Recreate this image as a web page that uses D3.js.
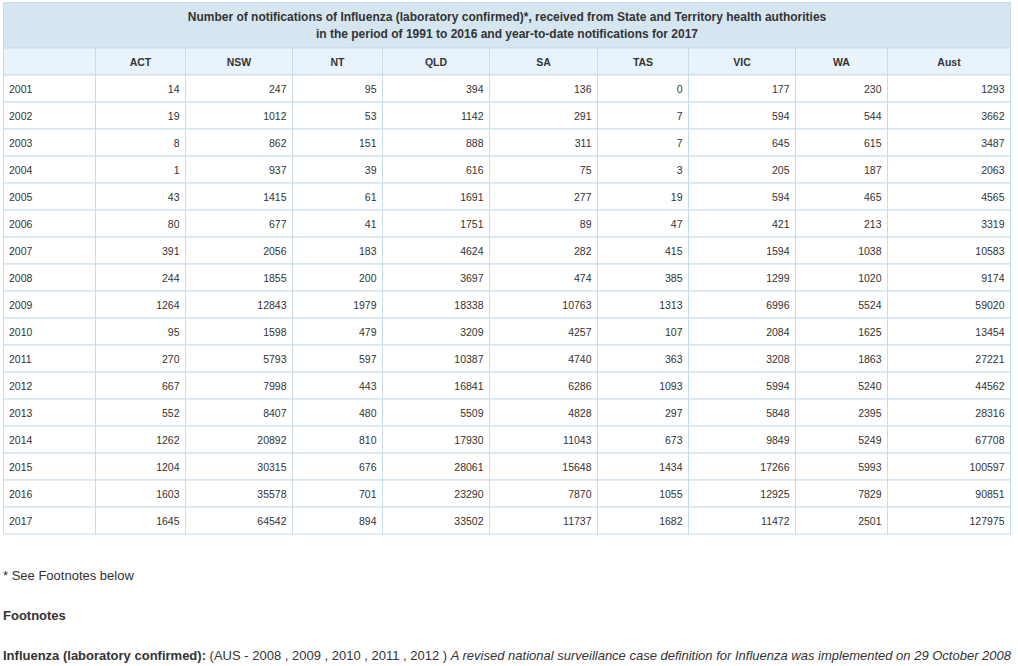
<!DOCTYPE html>
<html>
<head>
<meta charset="utf-8">
<script src="https://cdn.jsdelivr.net/npm/d3@7"></script>
<style>
  body { margin: 0; background: #fff; }
  svg { display: block; font-family: Arial, "Liberation Sans", sans-serif; }
</style>
</head>
<body>
<div id="chart"></div>
<script>
// table data
const titleLines = [
    "Number of notifications of Influenza (laboratory confirmed)*, received from State and Territory health authorities",
    "in the period of 1991 to 2016 and year-to-date notifications for 2017"
];
const columns = ["ACT", "NSW", "NT", "QLD", "SA", "TAS", "VIC", "WA", "Aust"];
const years = [2001, 2002, 2003, 2004, 2005, 2006, 2007, 2008, 2009, 2010, 2011, 2012, 2013, 2014, 2015, 2016, 2017];

const act  = [14, 19, 8, 1, 43, 80, 391, 244, 1264, 95, 270, 667, 552, 1262, 1204, 1603, 1645];
const nsw  = [247, 1012, 862, 937, 1415, 677, 2056, 1855, 12843, 1598, 5793, 7998, 8407, 20892, 30315, 35578, 64542];
const nt   = [95, 53, 151, 39, 61, 41, 183, 200, 1979, 479, 597, 443, 480, 810, 676, 701, 894];
const qld  = [394, 1142, 888, 616, 1691, 1751, 4624, 3697, 18338, 3209, 10387, 16841, 5509, 17930, 28061, 23290, 33502];
const sa   = [136, 291, 311, 75, 277, 89, 282, 474, 10763, 4257, 4740, 6286, 4828, 11043, 15648, 7870, 11737];
const tas  = [0, 7, 7, 3, 19, 47, 415, 385, 1313, 107, 363, 1093, 297, 673, 1434, 1055, 1682];
const vic  = [177, 594, 645, 205, 594, 421, 1594, 1299, 6996, 2084, 3208, 5994, 5848, 9849, 17266, 12925, 11472];
const wa   = [230, 544, 615, 187, 465, 213, 1038, 1020, 5524, 1625, 1863, 5240, 2395, 5249, 5993, 7829, 2501];
const aust = [1293, 3662, 3487, 2063, 4565, 3319, 10583, 9174, 59020, 13454, 27221, 44562, 28316, 67708, 100597, 90851, 127975];

const series = [act, nsw, nt, qld, sa, tas, vic, wa, aust];

const footnoteRef = "* See Footnotes below";
const footnoteHead = "Footnotes";
const footnoteBold = "Influenza (laboratory confirmed):";
const footnotePlain = " (AUS - 2008 , 2009 , 2010 , 2011 , 2012 ) ";
const footnoteItalic = "A revised national surveillance case definition for Influenza was implemented on 29 October 2008";

// layout
const width = 1018, height = 666;
const colWidths = [92, 90, 107, 90, 107, 108, 91, 107, 92, 123];
const tableLeft = 3.5, tableTop = 2.5, titleH = 45.5, headH = 27;
const border = "#c9dcea";
const textColor = "#333";

const svg = d3.select("#chart").append("svg")
    .attr("width", width)
    .attr("height", height);

const keys = ["year"].concat(columns);
const edges = [tableLeft];
colWidths.forEach(w => edges.push(edges[edges.length - 1] + w));
const tableRight = edges[edges.length - 1];

const x = d3.scaleOrdinal().domain(keys).range(edges.slice(0, -1));
const w = d3.scaleOrdinal().domain(keys).range(colWidths);

const headTop = tableTop + titleH;
const bodyTop = headTop + headH;
const y = d3.scaleBand()
    .domain(years)
    .range([bodyTop, bodyTop + years.length * 27]);

// title band
svg.append("rect")
    .attr("x", tableLeft).attr("y", tableTop)
    .attr("width", tableRight - tableLeft).attr("height", titleH)
    .attr("fill", "#d5e6f1")
    .attr("stroke", border);

svg.append("g").selectAll("text")
    .data(titleLines)
    .join("text")
    .attr("x", (tableLeft + tableRight) / 2)
    .attr("y", (d, i) => tableTop + 18 + i * 17)
    .attr("text-anchor", "middle")
    .style("font-size", "12px")
    .style("font-weight", "bold")
    .style("fill", textColor)
    .text(d => d);

// header row
const head = svg.append("g");
head.selectAll("rect")
    .data(keys)
    .join("rect")
    .attr("x", d => x(d)).attr("y", headTop)
    .attr("width", d => w(d)).attr("height", headH)
    .attr("fill", "#e9f3fb")
    .attr("stroke", border);

head.selectAll("text")
    .data(columns)
    .join("text")
    .attr("x", d => x(d) + w(d) / 2)
    .attr("y", headTop + headH / 2 + 4)
    .attr("text-anchor", "middle")
    .style("font-size", "10.5px")
    .style("font-weight", "bold")
    .style("fill", textColor)
    .text(d => d);

// body rows
const rows = svg.append("g").selectAll("g")
    .data(years)
    .join("g")
    .attr("transform", d => `translate(0,${y(d)})`);

rows.selectAll("rect")
    .data(keys)
    .join("rect")
    .attr("x", d => x(d)).attr("y", 0)
    .attr("width", d => w(d)).attr("height", y.bandwidth())
    .attr("fill", "#fff")
    .attr("stroke", border);

rows.append("text")
    .attr("x", x("year") + 5.5)
    .attr("y", y.bandwidth() / 2 + 4)
    .style("font-size", "10.5px")
    .style("fill", textColor)
    .text(d => d);

rows.selectAll("text.val")
    .data((d, i) => columns.map((c, j) => ({col: c, value: series[j][i]})))
    .join("text")
    .attr("class", "val")
    .attr("x", d => x(d.col) + w(d.col) - 6)
    .attr("y", y.bandwidth() / 2 + 4)
    .attr("text-anchor", "end")
    .style("font-size", "10.5px")
    .style("fill", textColor)
    .text(d => d.value);

// footnotes
svg.append("text")
    .attr("x", 3).attr("y", 580)
    .style("font-size", "13px")
    .style("fill", textColor)
    .text(footnoteRef);

svg.append("text")
    .attr("x", 3).attr("y", 620)
    .style("font-size", "13px")
    .style("font-weight", "bold")
    .style("fill", textColor)
    .text(footnoteHead);

const last = svg.append("text")
    .attr("x", 3).attr("y", 660)
    .style("font-size", "13px")
    .style("fill", textColor);
last.append("tspan").style("font-weight", "bold").text(footnoteBold);
last.append("tspan").attr("xml:space", "preserve").text(footnotePlain);
last.append("tspan").style("font-style", "italic").text(footnoteItalic);
</script>
</body>
</html>
